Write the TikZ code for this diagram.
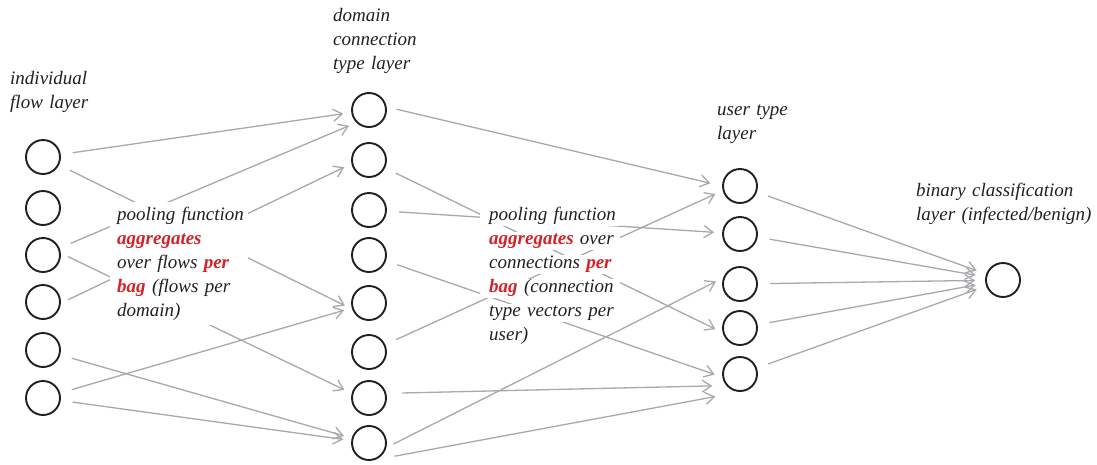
\documentclass[tikz,border=0pt]{standalone}
\usepackage{fontspec}
\setmainfont{Liberation Serif}
\usetikzlibrary{arrows.meta}
\definecolor{ink}{HTML}{231F20}
\definecolor{edgegray}{HTML}{A7A9AC}
\definecolor{hired}{HTML}{D2232A}
\newcommand\hl[1]{\textbf{\color{hired}#1}}
\newcommand\wl[1]{\colorbox{white}{\hspace{9pt}\makebox[128pt][l]{\rule[-6pt]{0pt}{18pt}#1}\hspace{3pt}}}
\newcommand\wls[1]{\colorbox{white}{\hspace{9pt}\rule[-6pt]{0pt}{18pt}#1\hspace{3pt}}}
\setlength\fboxsep{0pt}
\begin{document}
\begin{tikzpicture}[x=1pt,y=-1pt,
  unit/.style={circle, draw=ink, line width=1.9pt, minimum size=34pt, inner sep=0pt},
  conn/.style={draw=edgegray, line width=1.3pt, -{Straight Barb[length=9pt,width=12pt]}, shorten <=12pt, shorten >=8pt},
  lbl/.style={anchor=base west, inner sep=0pt, align=left, text=ink, font=\fontsize{19}{24}\selectfont\itshape, text width=260pt}
]
\fill[white] (0,0) rectangle (1097,464);
\useasboundingbox (0,0) rectangle (1097,464);
% individual flow layer
\foreach \i/\y in {1/157,2/208,3/255,4/302,5/350,6/398} \node[unit] (L\i) at (43,\y) {};
% domain connection type layer
\foreach \i/\y in {1/110,2/160,3/210,4/255,5/303,6/352,7/398,8/443} \node[unit] (M\i) at (369,\y) {};
% user type layer
\foreach \i/\y in {1/186,2/234,3/284,4/328,5/374} \node[unit] (U\i) at (740,\y) {};
% output
\node[unit] (O) at (1003,280) {};

% connectors layer 1 -> 2
\draw[conn] (L1) -- (M1);
\draw[conn] (L1) -- (M5.200);
\draw[conn] (L3) -- (M1.225);
\draw[conn, shorten <=8pt] (L3.6) -- (M7.165);
\draw[conn, shorten <=8pt] (L4.-4) -- (M2.192);
\draw[conn] (L5) -- (M8);
\draw[conn] (L6) -- (M5);
\draw[conn] (L6) -- (M8);
% layer 2 -> 3
\draw[conn, shorten <=10pt, shorten >=12pt] (M1.10) -- (U1.180);
\draw[conn] (M2) -- (U4.-165);
\draw[conn] (M3) -- (U2);
\draw[conn] (M4) -- (U5.-170);
\draw[conn] (M6) -- (U1.195);
\draw[conn, shorten <=16pt, shorten >=14pt] (M7.15) -- (U5.-140);
\draw[conn, shorten <=8pt] (M8.-15) -- (U3.160);
\draw[conn, shorten <=26pt, shorten >=25pt] (M8.south) -- (U5.south);
% layer 3 -> output
\foreach \i in {1,...,5} \draw[conn, shorten >=10pt] (U\i) -- (O);

% layer labels
\node[lbl] (t1) at (10,84) {individual\\flow layer};
\node[lbl] (t2) at (333,21) {domain\\connection\\type layer};
\node[lbl] (t3) at (717,115) {user type\\layer};
\node[lbl] (t4) at (916,196) {binary classification\\layer (infected/benign)};

% pooling texts
\node[lbl, fill=white, inner xsep=4pt, inner ysep=5pt, text width=130pt] (p1) at (110,220)
  {\hspace*{3pt}pooling function\\\hspace*{3pt}\hl{aggregates}\\\hspace*{3pt}over flows \hl{per}\\\hspace*{3pt}\hl{bag} (flows per\\\hspace*{3pt}domain)};
\node[lbl, text width=160pt] (p2) at (480,220)
  {\wl{pooling function}\\\wl{\hl{aggregates} over}\\\wl{connections \hl{per}}\\\wl{\hl{bag} (connection}\\\wl{type vectors per}\\\wls{user)}};
\end{tikzpicture}
\end{document}
